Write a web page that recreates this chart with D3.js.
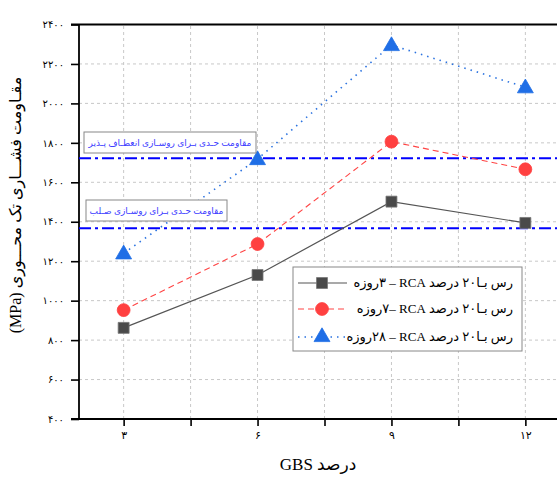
<!DOCTYPE html>
<html><head><meta charset="utf-8">
<script src="https://cdn.jsdelivr.net/npm/d3@7"></script>
<style>body{margin:0;background:#fff}svg{display:block}</style>
</head><body>
<script>
const xValues = [3, 6, 9, 12];
const xTickLabels = ["۳", "۶", "۹", "۱۲"];
const yTicks = [400, 600, 800, 1000, 1200, 1400, 1600, 1800, 2000, 2200, 2400];
const yTickLabels = ["۴۰۰", "۶۰۰", "۸۰۰", "۱۰۰۰", "۱۲۰۰", "۱۴۰۰", "۱۶۰۰", "۱۸۰۰", "۲۰۰۰", "۲۲۰۰", "۲۴۰۰"];
const seriesNames = ["رس بـا۲۰ درصد RCA – \u200F۳روزه", "رس بـا۲۰ درصد RCA –\u200F۷روزه", "رس بـا۲۰ درصد RCA – \u200F۲۸روزه"];
const day3 = [862, 1130, 1502, 1394];
const day7 = [952, 1287, 1806, 1666];
const day28 = [1240, 1718, 2296, 2082];
const limitValues = [1722, 1367];
const limitLabels = ["مقاومت حـدی بـرای روسـازی انعطـاف پـذیر", "مقاومت حـدی بـرای روسـازی صـلب"];
const xTitle = "درصد GBS";
const yTitle = "مقـاومت فشـــاری تک محـــوری (MPa)";

const W = 557, H = 477;
const svg = d3.select("body").append("svg").attr("width", W).attr("height", H);
const x = d3.scaleLinear().domain([2, 13]).range([79, 570]);
const y = d3.scaleLinear().domain([400, 2400]).range([419, 24.5]);
const fontMix = "'Liberation Serif','DejaVu Sans',serif";

// grid
const gridX = [3, 4.5, 6, 7.5, 9, 10.5, 12];
svg.append("g").selectAll("line").data(gridX).join("line")
  .attr("x1", d => x(d)).attr("x2", d => x(d)).attr("y1", y(400)).attr("y2", y(2400))
  .attr("stroke", "#c8c8c8").attr("stroke-dasharray", "3,3").attr("stroke-width", 1);
svg.append("g").selectAll("line").data(yTicks.slice(1, -1)).join("line")
  .attr("x1", x(2)).attr("x2", W).attr("y1", d => y(d)).attr("y2", d => y(d))
  .attr("stroke", "#c8c8c8").attr("stroke-dasharray", "3,3").attr("stroke-width", 1);

// axes
const yAxis = d3.axisLeft(y).tickValues(yTicks).tickSize(8).tickFormat((d, i) => yTickLabels[i]);
const gy = svg.append("g").attr("transform", `translate(${x(2)},0)`).call(yAxis);
gy.select(".domain").remove();
gy.selectAll(".tick line").attr("stroke", "#000").attr("stroke-width", 1.6);
gy.selectAll(".tick text").attr("font-family", fontMix).attr("font-size", 10).attr("x", -15).attr("fill", "#000");

const xAxis = d3.axisBottom(x).tickValues(gridX).tickSize(7).tickFormat(d => {
  const i = xValues.indexOf(d); return i >= 0 ? xTickLabels[i] : "";
});
const gx = svg.append("g").attr("transform", `translate(0,${y(400)})`).call(xAxis);
gx.select(".domain").remove();
gx.selectAll(".tick line").attr("stroke", "#000").attr("stroke-width", 1.6);
gx.selectAll(".tick text").attr("font-family", fontMix).attr("font-size", 11).attr("y", 12).attr("fill", "#000");

// frame lines
svg.append("line").attr("x1", x(2) - 8).attr("x2", W).attr("y1", y(2400)).attr("y2", y(2400)).attr("stroke", "#000").attr("stroke-width", 1.8);
svg.append("line").attr("x1", x(2) - 8).attr("x2", W).attr("y1", y(400)).attr("y2", y(400)).attr("stroke", "#000").attr("stroke-width", 1.8);
svg.append("line").attr("x1", x(2)).attr("x2", x(2)).attr("y1", y(2400)).attr("y2", y(400)).attr("stroke", "#000").attr("stroke-width", 1.8);

// limit lines
svg.append("g").selectAll("line").data(limitValues).join("line")
  .attr("x1", x(2)).attr("x2", W).attr("y1", d => y(d)).attr("y2", d => y(d))
  .attr("stroke", "#0000ff").attr("stroke-width", 2).attr("stroke-dasharray", "12,4,3,4");

// series
const line = d3.line().x((d, i) => x(xValues[i])).y(d => y(d));
const series = [
  {vals: day3, color: "#555555", dash: null, w: 1.2, sym: d3.symbolSquare, size: 120, fill: "#4a4a4a", stroke: "#777"},
  {vals: day7, color: "#ff4444", dash: "6,4", w: 1.1, sym: d3.symbolCircle, size: 130, fill: "#ff4040", stroke: "#ff4040"},
  {vals: day28, color: "#2a72e0", dash: "1.5,5", w: 1.6, sym: d3.symbolTriangle, size: 110, fill: "#1f6ee6", stroke: "#1f6ee6"}
];
series.forEach(s => {
  svg.append("path").attr("d", line(s.vals)).attr("fill", "none").attr("stroke", s.color)
    .attr("stroke-width", s.w).attr("stroke-dasharray", s.dash);
  svg.append("g").selectAll("path").data(s.vals).join("path")
    .attr("d", d3.symbol().type(s.sym).size(s.size))
    .attr("transform", (d, i) => `translate(${x(xValues[i])},${y(d) + (s.sym === d3.symbolTriangle ? 1 : 0)})`)
    .attr("fill", s.fill).attr("stroke", s.stroke).attr("stroke-width", 0.8);
});

// annotation boxes
const boxes = [{x0: 84, x1: 256, y0: 132, y1: 153}, {x0: 86, x1: 227, y0: 200, y1: 221}];
boxes.forEach((b, i) => {
  svg.append("rect").attr("x", b.x0).attr("y", b.y0).attr("width", b.x1 - b.x0).attr("height", b.y1 - b.y0)
    .attr("fill", "#fff").attr("stroke", "#888").attr("stroke-width", 1);
  svg.append("text").attr("x", (b.x0 + b.x1) / 2).attr("y", (b.y0 + b.y1) / 2 + 3)
    .attr("text-anchor", "middle").attr("direction", "rtl").attr("font-family", fontMix).attr("font-size", 9)
    .attr("fill", "#4040ff").text(limitLabels[i]);
});

// legend
const lg = svg.append("g");
lg.append("rect").attr("x", 293).attr("y", 267).attr("width", 229).attr("height", 84)
  .attr("fill", "#fff").attr("stroke", "#888").attr("stroke-width", 1);
const rowsY = [283, 309, 337];
series.forEach((s, i) => {
  lg.append("line").attr("x1", 298).attr("x2", 347).attr("y1", rowsY[i]).attr("y2", rowsY[i])
    .attr("stroke", s.color).attr("stroke-width", s.w).attr("stroke-dasharray", s.dash);
  lg.append("path").attr("d", d3.symbol().type(s.sym).size(s.size))
    .attr("transform", `translate(322,${rowsY[i]})`).attr("fill", s.fill).attr("stroke", s.stroke).attr("stroke-width", 0.8);
  lg.append("text").attr("x", 513).attr("y", rowsY[i] + 4).attr("direction", "rtl").attr("text-anchor", "start")
    .attr("font-family", fontMix).attr("font-size", 13).attr("fill", "#000").text(seriesNames[i]);
});

// titles
svg.append("text").attr("x", 318).attr("y", 470).attr("text-anchor", "middle").attr("direction", "rtl")
  .attr("font-family", fontMix).attr("font-size", 17).attr("fill", "#000").text(xTitle);
svg.append("text").attr("transform", "translate(21,205) rotate(-90)").attr("text-anchor", "middle").attr("direction", "rtl")
  .attr("font-family", fontMix).attr("font-size", 16).attr("fill", "#000").text(yTitle);
</script>
</body></html>
